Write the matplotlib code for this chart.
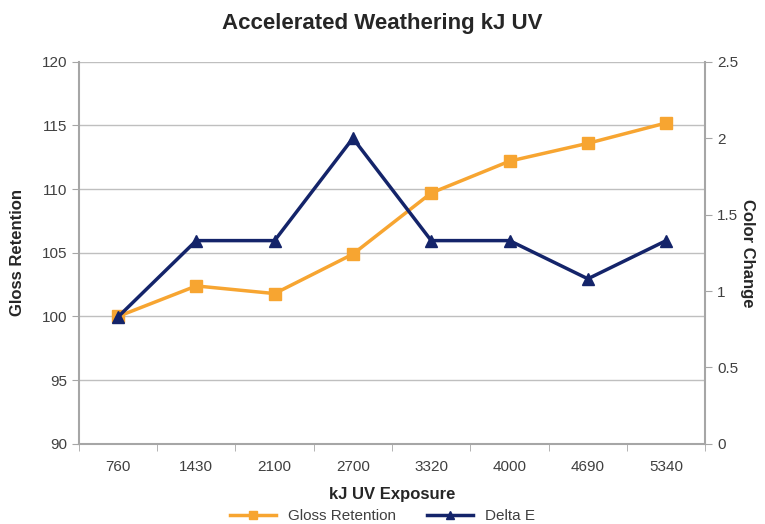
import matplotlib
matplotlib.use("Agg")
import matplotlib.pyplot as plt
import numpy as np

# 数据
exposure = ["760", "1430", "2100", "2700", "3320", "4000", "4690", "5340"]
gloss_retention = [100.0, 102.4, 101.8, 104.9, 109.7, 112.2, 113.6, 115.2]
delta_e = [0.83, 1.33, 1.33, 2.0, 1.33, 1.33, 1.08, 1.33]

orange = "#F7A531"
navy = "#14246A"
axis_gray = "#A6A6A6"
text_gray = "#404040"

plt.rcParams['font.family'] = ['Liberation Sans', 'DejaVu Sans']

fig = plt.figure(figsize=(7.65, 5.24), dpi=100)
ax = fig.add_axes([0.103, 0.153, 0.819, 0.729])
ax2 = ax.twinx()

x = np.arange(len(exposure))
l1, = ax.plot(x, gloss_retention, color=orange, lw=2.5, marker='s', ms=8, label="Gloss Retention")
l2, = ax2.plot(x, delta_e, color=navy, lw=2.5, marker='^', ms=8, label="Delta E")

ax.set_xlim(-0.5, len(exposure) - 0.5)
ax.set_ylim(90, 120)
ax.set_yticks(np.arange(90, 121, 5))
ax2.set_ylim(0, 2.5)
ax2.set_yticks([0, 0.5, 1, 1.5, 2, 2.5])
ax2.set_yticklabels(["0", "0.5", "1", "1.5", "2", "2.5"])

ax.set_xticks(x)
ax.set_xticklabels(exposure)
ax.set_xticks(np.arange(-0.5, len(exposure), 1), minor=True)
ax.tick_params(axis='x', which='major', length=0, pad=12)
ax.tick_params(axis='x', which='minor', length=5, color=axis_gray)

ax.grid(axis='y', color="#BFBFBF", lw=1)
ax.set_axisbelow(True)

for a in (ax, ax2):
    for s in a.spines.values():
        s.set_visible(False)
    a.tick_params(axis='y', length=5, color=axis_gray, labelsize=11, labelcolor=text_gray)
ax.tick_params(axis='x', labelsize=11, labelcolor=text_gray)
ax.spines['left'].set_visible(True)
ax.spines['left'].set_color(axis_gray)
ax.spines['left'].set_linewidth(1.5)
ax.spines['bottom'].set_visible(True)
ax.spines['bottom'].set_color(axis_gray)
ax.spines['bottom'].set_linewidth(1.5)
ax2.spines['right'].set_visible(True)
ax2.spines['right'].set_color(axis_gray)
ax2.spines['right'].set_linewidth(1.5)

ax.set_ylabel("Gloss Retention", fontsize=12, fontweight='bold', color="#262626", labelpad=12)
ax2.set_ylabel("Color Change", fontsize=12, fontweight='bold', color="#262626", rotation=270, labelpad=12)
ax.set_xlabel("kJ UV Exposure", fontsize=12, fontweight='bold', color="#262626", labelpad=9)

fig.suptitle("Accelerated Weathering kJ UV", fontsize=16, fontweight='bold', color="#262626", y=0.975)

fig.legend(handles=[l1, l2], loc='lower center', bbox_to_anchor=(0.5, -0.025), ncol=2,
           frameon=False, fontsize=11, handlelength=3, columnspacing=2, markerscale=0.8,
           labelcolor=text_gray)

fig.savefig("out.png", dpi=100)
